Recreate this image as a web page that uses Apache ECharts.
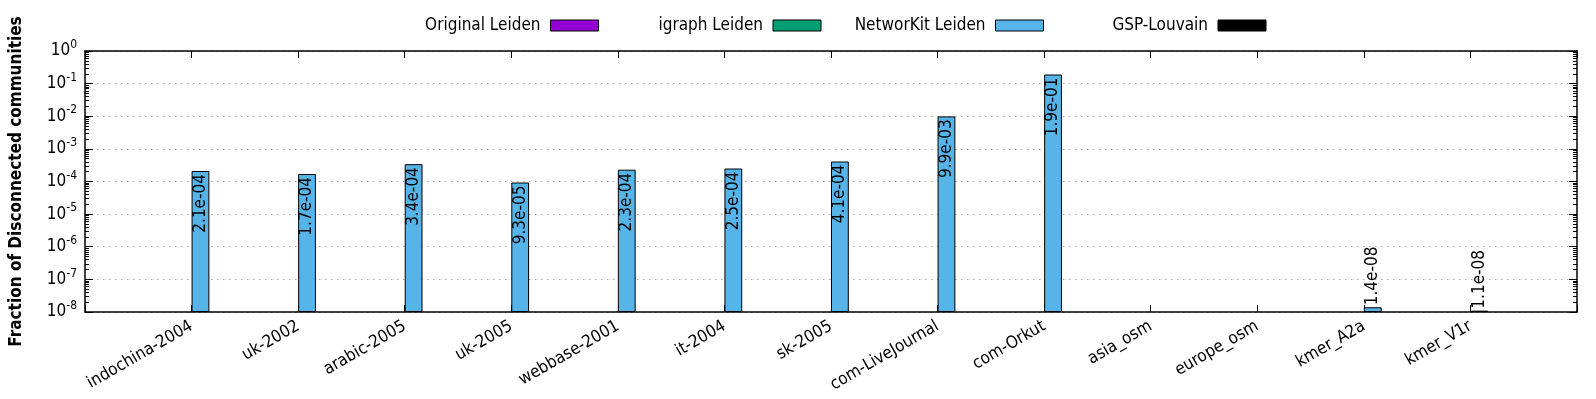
<!DOCTYPE html>
<html>
<head>
<meta charset="utf-8">
<script src="https://cdn.jsdelivr.net/npm/echarts@6.0.0/dist/echarts.min.js"></script>
<style>
  html, body { margin: 0; padding: 0; background: #fff; }
  #chart { width: 1596px; height: 399px; }
</style>
</head>
<body>
<div id="chart"></div>
<script>
// graphs on the x axis
const categories = ['indochina-2004', 'uk-2002', 'arabic-2005', 'uk-2005', 'webbase-2001', 'it-2004',
  'sk-2005', 'com-LiveJournal', 'com-Orkut', 'asia_osm', 'europe_osm', 'kmer_A2a', 'kmer_V1r']

// fraction of disconnected communities (0 = nothing drawn)
const originalLeiden = [0, 0, 0, 0, 0, 0, 0, 0, 0, 0, 0, 0, 0]
const igraphLeiden = [0, 0, 0, 0, 0, 0, 0, 0, 0, 0, 0, 0, 0]
const networkitLeiden = [2.1e-4, 1.7e-4, 3.4e-4, 9.3e-5, 2.3e-4, 2.5e-4, 4.1e-4, 9.9e-3, 1.9e-1, 0, 0, 1.4e-8, 1.1e-8]
const gspLouvain = [0, 0, 0, 0, 0, 0, 0, 0, 0, 0, 0, 0, 0]

const seriesNames = ['Original Leiden', 'igraph Leiden', 'NetworKit Leiden', 'GSP-Louvain']
const seriesColors = ['#9400d3', '#009e73', '#56b4e9', '#000000']

const FONT = '"DejaVu Sans Condensed", "DejaVu Sans", sans-serif'
const BAR_W = 17.8

// 2.1e-04 style, like gnuplot's %.1e
function sci(v) {
  const [m, e] = v.toExponential(1).split('e')
  const n = parseInt(e, 10)
  return m + 'e' + (n < 0 ? '-' : '+') + String(Math.abs(n)).padStart(2, '0')
}

function barData(values) {
  const out = []
  values.forEach((v, i) => {
    if (v <= 0) return // log axis, zero cannot be drawn
    const item = { value: [i, v] }
    if (v < 1e-6) {
      // bar too short, label goes above it
      item.label = { position: 'top', align: 'left', distance: 2 }
    }
    out.push(item)
  })
  return out
}

// log minor ticks (2..9 of every decade), on a linear exponent axis
const minorTicks = []
for (let d = -8; d < 0; d++) {
  for (let k = 2; k <= 9; k++) minorTicks.push(d + Math.log10(k))
}

const chart = echarts.init(document.getElementById('chart'))

const axisLine = { show: true, onZero: false, lineStyle: { color: '#000', width: 1.5 }}
const minorAxis = (pos) => ({
  type: 'value', position: pos, min: -8, max: 0,
  axisLine: { show: false, onZero: false },
  axisTick: { show: true, inside: true, length: 4, customValues: minorTicks, lineStyle: { color: '#000' }},
  axisLabel: { show: false },
  splitLine: { show: false }
})

const option = {
  animation: false,
  backgroundColor: '#fff',
  textStyle: { fontFamily: FONT },
  grid: { left: 85, right: 19, top: 51, bottom: 87 },
  legend: seriesNames.map((name, i) => ({
    data: [name],
    right: 997 - i * 222.5,
    top: 17,
    align: 'right',
    padding: 0,
    icon: 'rect',
    itemWidth: 48,
    itemHeight: 11,
    selectedMode: false,
    itemStyle: { borderColor: '#000', borderWidth: 1 },
    textStyle: { color: '#000', fontSize: 17, fontFamily: FONT, padding: [0, 5, 0, 0] }
  })),
  xAxis: [
    {
      type: 'value', position: 'bottom', min: -1, max: 13, interval: 1,
      axisLine: axisLine,
      axisTick: { inside: true, length: 7, lineStyle: { color: '#000' }},
      axisLabel: {
        formatter: v => categories[v] || '',
        rotate: 30, margin: 13, color: '#000', fontSize: 17, fontFamily: FONT
      },
      splitLine: { show: false }
    },
    {
      type: 'value', position: 'top', min: -1, max: 13, interval: 1,
      axisLine: axisLine,
      axisTick: { inside: true, length: 7, lineStyle: { color: '#000' }},
      axisLabel: { show: false },
      splitLine: { show: false }
    }
  ],
  yAxis: [
    {
      type: 'log', logBase: 10, position: 'left', min: 1e-8, max: 1, interval: 1, startValue: 1e-8,
      name: 'Fraction of Disconnected communities',
      nameLocation: 'middle', nameGap: 60,
      nameTextStyle: { fontWeight: 'bold', fontSize: 17, color: '#000', fontFamily: FONT },
      axisLine: axisLine,
      axisTick: { inside: true, length: 8, lineStyle: { color: '#000' }},
      axisLabel: {
        margin: 8,
        formatter: v => '{b|10}{s|' + Math.round(Math.log10(v)) + '}',
        rich: {
          b: { fontSize: 17, color: '#000', fontFamily: FONT },
          s: { fontSize: 12, color: '#000', fontFamily: FONT, padding: [0, 0, 12, 0] }
        }
      },
      splitLine: { show: true, lineStyle: { color: '#a8a8a8', width: 1, type: [1.5, 4.5] }}
    },
    {
      type: 'log', logBase: 10, position: 'right', min: 1e-8, max: 1, interval: 1, startValue: 1e-8,
      axisLine: axisLine,
      axisTick: { inside: true, length: 8, lineStyle: { color: '#000' }},
      axisLabel: { show: false },
      splitLine: { show: false }
    },
    minorAxis('left'),
    minorAxis('right')
  ],
  series: [originalLeiden, igraphLeiden, networkitLeiden, gspLouvain].map((vals, i) => ({
    name: seriesNames[i],
    type: 'bar',
    xAxisIndex: 0,
    yAxisIndex: 0,
    barWidth: BAR_W,
    barGap: '0%',
    data: barData(vals),
    itemStyle: { color: seriesColors[i], borderColor: '#000', borderWidth: 1 },
    label: {
      show: true,
      position: 'insideTop',
      rotate: 90,
      align: 'right',
      verticalAlign: 'middle',
      distance: 3,
      color: '#000',
      fontSize: 17,
      fontFamily: FONT,
      formatter: p => sci(p.value[1])
    }
  }))
}

chart.setOption(option)
window.addEventListener('resize', () => {
  chart.resize()
})
</script>
</body>
</html>
